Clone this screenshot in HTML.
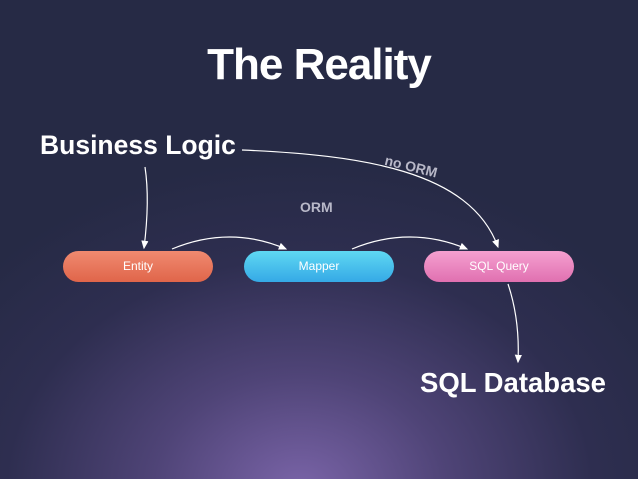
<!DOCTYPE html>
<html><head><style>
html,body{margin:0;padding:0}
body{width:638px;height:479px;overflow:hidden;position:relative;font-family:"Liberation Sans",sans-serif;
background:radial-gradient(ellipse 420px 330px at 300px 490px,#7a64a8 0%,#4f4477 35%,#2e2e50 70%,#262a45 100%),#262a45;}
.t{position:absolute;color:#fff;font-weight:bold;white-space:nowrap}
.box{position:absolute;top:251px;width:150px;height:31px;border-radius:16px;color:#fff;font-size:12px;text-align:center;line-height:31px}
</style></head><body>
<div class="t" style="left:0;width:638px;text-align:center;top:40px;font-size:44px;letter-spacing:-1px">The Reality</div>
<div class="t" style="left:40px;top:130px;font-size:26.5px">Business Logic</div>
<div class="t" style="left:420px;top:367px;font-size:27.5px">SQL Database</div>
<div class="t" style="left:300px;top:199px;font-size:14px;color:#b8b8c8;font-weight:bold">ORM</div>
<div class="t" style="left:387px;top:152px;font-size:14px;color:#b8b8c8;transform:rotate(14deg);transform-origin:left top">no ORM</div>
<div class="box" style="left:63px;background:linear-gradient(#f08a70,#e0654a)">Entity</div>
<div class="box" style="left:244px;background:linear-gradient(#5fd8f2,#35a9e6)">Mapper</div>
<div class="box" style="left:424px;background:linear-gradient(#f5a0d0,#e070b0)">SQL Query</div>
<svg width="638" height="479" style="position:absolute;left:0;top:0">
<defs><marker id="a" markerWidth="8" markerHeight="8" refX="6" refY="3" orient="auto"><path d="M0,0L7,3L0,6z" fill="#fff"/></marker></defs>
<g fill="none" stroke="#fff" stroke-width="1.2">
<path d="M145,167 Q150,200 144,248" marker-end="url(#a)"/>
<path d="M242,150 C360,155 470,170 498,247" marker-end="url(#a)"/>
<path d="M172,249 Q230,225 286,249" marker-end="url(#a)"/>
<path d="M352,249 Q410,225 467,249" marker-end="url(#a)"/>
<path d="M508,284 Q520,320 518,362" marker-end="url(#a)"/>
</g></svg>
</body></html>
